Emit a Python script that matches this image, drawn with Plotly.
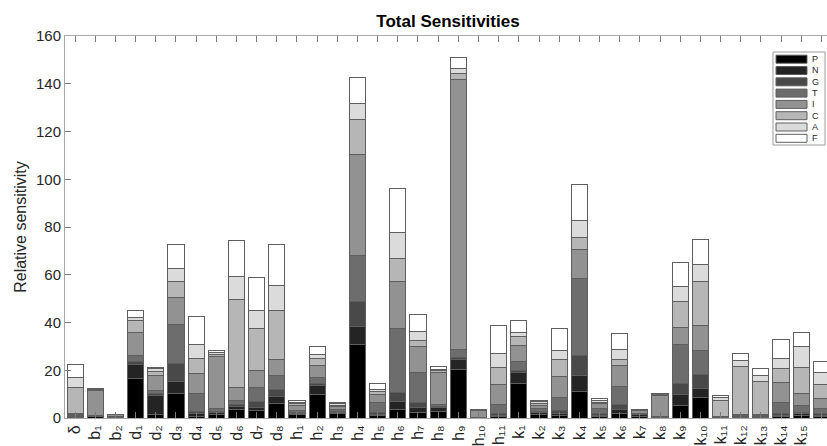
import plotly.graph_objects as go

categories = ["δ", "b_1", "b_2", "d_1", "d_2", "d_3", "d_4", "d_5", "d_6", "d_7", "d_8",
              "h_1", "h_2", "h_3", "h_4", "h_5", "h_6", "h_7", "h_8", "h_9", "h_10", "h_11",
              "k_1", "k_2", "k_3", "k_4", "k_5", "k_6", "k_7", "k_8", "k_9", "k_10", "k_11",
              "k_12", "k_13", "k_14", "k_15", "k_16"]

series_names = ["P", "N", "G", "T", "I", "C", "A", "F"]

P = [0.4, 0.6, 0.2, 16.4, 1.3, 10.3, 0.8, 1.5, 3.7, 3.1, 6.2,
     1.5, 9.8, 1.7, 30.9, 0.9, 3.4, 2.3, 2.7, 20.3, 0.1, 0.5,
     14.3, 1.5, 1.0, 11.2, 0.6, 2.0, 0.8, 0.2, 5.4, 8.4, 0.2, 0.3, 0.3, 0.6, 0.9, 0.5]
N = [0.3, 0.2, 0.1, 6.0, 8.1, 5.0, 0.9, 0.9, 1.0, 1.4, 2.9,
     0.5, 3.7, 0.6, 7.4, 0.5, 3.5, 2.1, 1.7, 4.2, 0.1, 0.5,
     4.9, 0.7, 1.0, 6.6, 0.5, 1.4, 0.5, 0.1, 4.3, 3.8, 0.1, 0.3, 0.3, 0.5, 0.8, 0.5]
G = [0.4, 0.2, 0.2, 1.3, 1.0, 7.4, 0.9, 0.5, 0.8, 2.4, 2.8,
     0.4, 0.8, 0.6, 10.5, 0.7, 3.7, 2.0, 0.5, 0.7, 0.1, 0.8,
     0.7, 0.5, 1.1, 8.4, 0.8, 2.3, 0.3, 0.1, 4.9, 6.0, 0.1, 0.3, 0.3, 0.6, 0.7, 0.7]
T = [0.3, 0.2, 0.3, 2.5, 1.1, 16.3, 7.5, 0.9, 1.8, 5.7, 5.9,
     0.7, 2.8, 0.7, 19.1, 4.3, 26.8, 12.5, 0.8, 3.4, 0.1, 3.9,
     3.9, 1.3, 5.6, 32.1, 1.9, 7.5, 0.3, 0.1, 16.0, 10.1, 0.1, 0.4, 0.4, 4.7, 2.8, 2.1]
I = [0.5, 10.2, 0.5, 9.8, 6.3, 11.6, 8.4, 22.1, 5.5, 7.2, 6.6,
     2.0, 5.0, 1.2, 42.3, 3.6, 19.6, 10.9, 13.2, 113.1, 2.8, 8.2,
     6.6, 1.3, 8.8, 12.1, 2.1, 8.6, 1.2, 9.0, 7.2, 10.4, 0.1, 0.2, 0.2, 8.3, 4.9, 4.5]
C = [10.9, 0.4, 0.1, 4.8, 1.8, 6.6, 6.3, 0.7, 37.0, 17.6, 20.5,
     0.8, 2.8, 0.6, 14.7, 1.0, 9.9, 2.5, 1.0, 2.5, 0.1, 7.3,
     3.7, 0.8, 6.9, 5.3, 0.7, 2.6, 0.3, 0.3, 11.1, 18.6, 6.7, 20.1, 13.8, 5.9, 10.9, 5.6]
A = [4.2, 0.3, 0.1, 1.2, 1.0, 5.6, 6.1, 0.7, 9.6, 7.5, 10.6,
     0.7, 1.7, 0.8, 6.7, 1.0, 10.7, 3.9, 0.6, 2.1, 0.05, 5.8,
     1.8, 0.7, 3.9, 7.0, 0.7, 4.2, 0.2, 0.2, 6.2, 6.9, 1.3, 2.5, 2.5, 4.2, 9.1, 5.0]
F = [5.3, 0.3, 0.1, 2.9, 0.7, 9.7, 11.6, 0.8, 14.9, 13.8, 17.0,
     0.7, 3.3, 0.4, 10.9, 2.3, 18.4, 7.0, 0.9, 4.6, 0.05, 11.6,
     4.8, 0.7, 9.0, 15.0, 0.7, 6.9, 0.1, 0.1, 9.9, 10.6, 0.7, 2.9, 2.8, 7.9, 5.6, 4.6]

series_values = [P, N, G, T, I, C, A, F]
series_colors = ["#000000", "#242424", "#494949", "#6d6d6d", "#929292", "#b6b6b6", "#dbdbdb", "#ffffff"]

y_ticks = [0, 20, 40, 60, 80, 100, 120, 140, 160]

W, H = 827, 446
ML, MR, MT, MB = 65, 0, 36, 28
PW, PH = W - ML - MR, H - MT - MB
UNIT = 20.17  # px per category

FONT = "Liberation Sans, Arial, sans-serif"
TXT = "#262626"
SUB = str.maketrans("0123456789", "₀₁₂₃₄₅₆₇₈₉")


def tick_label(c):
    base, _, sub = c.partition("_")
    return base + sub.translate(SUB)


xpos = list(range(1, len(categories) + 1))

fig = go.Figure()
for name, vals, col in zip(series_names, series_values, series_colors):
    fig.add_trace(go.Bar(
        x=xpos, y=vals, name=name, width=0.8,
        marker=dict(color=col, line=dict(color="#5e5e5e", width=1)),
        showlegend=False,
    ))


def px_x(px):
    return (px - ML) / PW


def px_y(py):
    return (H - MB - py) / PH


shapes = []
annotations = []
# legend box (manual, to mimic the boxed legend with wide swatches)
shapes.append(dict(type="rect", xref="paper", yref="paper",
                   x0=px_x(773), x1=px_x(825), y0=px_y(145), y1=px_y(52),
                   line=dict(color="#9a9a9a", width=1), fillcolor="white", layer="above"))
for i, (name, col) in enumerate(zip(series_names, series_colors)):
    cy = 59.2 + i * 11.3
    shapes.append(dict(type="rect", xref="paper", yref="paper",
                       x0=px_x(776), x1=px_x(807), y0=px_y(cy + 4), y1=px_y(cy - 4),
                       line=dict(color="#5e5e5e", width=1), fillcolor=col, layer="above"))
    annotations.append(dict(xref="paper", yref="paper", x=px_x(809.5), y=px_y(cy),
                            text=name, showarrow=False, xanchor="left", yanchor="middle",
                            font=dict(family=FONT, size=9, color=TXT)))

fig.update_layout(
    template="none",
    width=W, height=H,
    margin=dict(l=ML, r=MR, t=MT, b=MB, pad=0),
    barmode="stack",
    paper_bgcolor="white", plot_bgcolor="white",
    font=dict(family=FONT, color=TXT),
    title=dict(text="<b>Total Sensitivities</b>", x=0.5026, xref="paper", xanchor="center",
               y=1 - 21 / H, yref="container", yanchor="middle",
               font=dict(family=FONT, size=17, color="#000000")),
    xaxis=dict(
        range=[0.5, 0.5 + PW / UNIT],
        tickmode="array", tickvals=xpos, ticktext=[tick_label(c) for c in categories],
        tickangle=-90, ticks="inside", ticklen=6, tickcolor="#7a7a7a", tickwidth=1,
        showline=True, linecolor="#a8a8a8", linewidth=1, mirror="ticks",
        showgrid=False, zeroline=False, automargin=False,
        tickfont=dict(family=FONT, size=16, color=TXT),
    ),
    yaxis=dict(
        range=[0, 160], tickmode="array", tickvals=y_ticks,
        ticks="inside", ticklen=6, tickcolor="#7a7a7a", tickwidth=1,
        showline=True, linecolor="#a8a8a8", linewidth=1, mirror=False,
        showgrid=False, zeroline=False, automargin=False,
        tickfont=dict(family=FONT, size=15, color=TXT),
        title=dict(text="Relative sensitivity", standoff=5,
                   font=dict(family=FONT, size=16, color=TXT)),
    ),
    yaxis2=dict(
        overlaying="y", side="right", anchor="x", range=[0, 160], tickmode="array",
        tickvals=y_ticks, ticks="inside", ticklen=4, tickcolor="#7a7a7a",
        showticklabels=False, showline=False, showgrid=False, zeroline=False,
    ),
    shapes=shapes,
    annotations=annotations,
    showlegend=False,
)

fig.write_html("out.html")
